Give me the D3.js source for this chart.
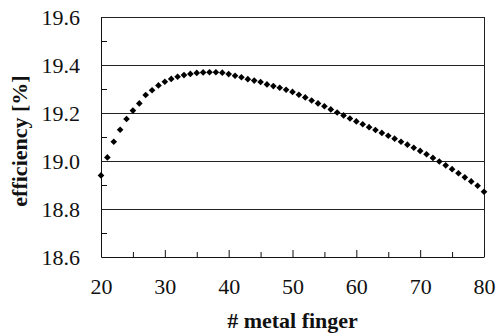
<!DOCTYPE html>
<html>
<head>
<meta charset="utf-8">
<script src="https://cdn.jsdelivr.net/npm/d3@7"></script>
<style>
  body { margin: 0; background: #fff; }
</style>
</head>
<body>
<svg width="496" height="336"></svg>
<script>
var width = 496,
    height = 336,
    margin = {top: 17, right: 12, bottom: 79, left: 101}
var FONT = "'Liberation Serif'"

// number of metal fingers
var fingers = d3.range(20, 81)
// efficiency [%]
var efficiency = [
    18.94, 19.015, 19.08, 19.13, 19.175, 19.21, 19.24, 19.275, 19.295, 19.315,
    19.33, 19.342, 19.351, 19.358, 19.363, 19.367, 19.369, 19.37, 19.37, 19.368,
    19.362, 19.355, 19.349, 19.341, 19.335, 19.329, 19.319, 19.312, 19.305, 19.297,
    19.288, 19.276, 19.265, 19.252, 19.24, 19.228, 19.215, 19.202, 19.19, 19.177,
    19.165, 19.153, 19.141, 19.129, 19.117, 19.105, 19.093, 19.08, 19.068, 19.055,
    19.042, 19.028, 19.013, 18.998, 18.982, 18.966, 18.949, 18.932, 18.915, 18.897,
    18.872
]
var xTicks = [20, 30, 40, 50, 60, 70, 80]
var xMinor = [25, 35, 45, 55, 65, 75]
var yTicks = [18.6, 18.8, 19.0, 19.2, 19.4, 19.6]
var yMinor = [18.7, 18.9, 19.1, 19.3, 19.5]

var w = width - margin.left - margin.right,
    h = height - margin.top - margin.bottom

var x = d3.scaleLinear().domain([20, 80]).range([0, w])
var y = d3.scaleLinear().domain([18.6, 19.6]).range([h, 0])

var svg = d3.select("svg")
var g = svg.append("g")
    .attr("transform", "translate(" + margin.left + "," + margin.top + ")")

// gridlines
g.selectAll(".grid").data(yTicks.slice(1)).enter().append("line")
    .attr("x1", 0).attr("x2", w)
    .attr("y1", d => Math.round(y(d)) + 0.5).attr("y2", d => Math.round(y(d)) + 0.5)
    .attr("stroke", "#222").attr("stroke-width", 1)

// right border
g.append("line")
    .attr("x1", w + 0.5).attr("x2", w + 0.5).attr("y1", 0).attr("y2", h)
    .attr("stroke", "#222")

// x axis (ticks point inward)
var xAxis = g.append("g").attr("transform", "translate(0," + h + ")")
    .call(d3.axisBottom(x).tickValues(xTicks).tickFormat(d3.format("d")).tickSizeInner(-7).tickSizeOuter(0))
xAxis.select(".domain").attr("stroke", "#111")
xAxis.selectAll(".tick line").attr("stroke", "#111")
xAxis.selectAll("text").attr("y", 21).attr("font-size", 22).attr("fill", "#111")
    .style("font-family", FONT)
xAxis.selectAll(".minor").data(xMinor).enter().append("line")
    .attr("class", "minor")
    .attr("x1", d => x(d) + 0.5).attr("x2", d => x(d) + 0.5)
    .attr("y1", 0).attr("y2", -5).attr("stroke", "#111")

// y axis
var yAxis = g.append("g")
    .call(d3.axisLeft(y).tickValues(yTicks).tickFormat(d3.format(".1f")).tickSize(0))
yAxis.select(".domain").attr("stroke", "#111")
yAxis.selectAll("text").attr("x", -21).attr("font-size", 22).attr("fill", "#111")
    .style("font-family", FONT)
yAxis.selectAll(".minor").data(yMinor).enter().append("line")
    .attr("class", "minor")
    .attr("x1", 0).attr("x2", 6)
    .attr("y1", d => Math.round(y(d)) + 0.5).attr("y2", d => Math.round(y(d)) + 0.5)
    .attr("stroke", "#111")

// data points (diamonds)
g.selectAll(".pt").data(fingers).enter().append("path")
    .attr("class", "pt")
    .attr("d", d3.symbol(d3.symbolSquare, 22))
    .attr("transform", (d, i) => "translate(" + x(d) + "," + y(efficiency[i]) + ") rotate(45)")
    .attr("fill", "#000")

// axis titles
svg.append("text")
    .attr("x", margin.left + w / 2).attr("y", 328)
    .style("font-family", FONT)
    .attr("text-anchor", "middle").attr("font-weight", "bold").attr("font-size", 22)
    .attr("fill", "#111")
    .text("# metal finger")

svg.append("text")
    .attr("transform", "translate(27," + (margin.top + h / 2 + 4) + ") rotate(-90)")
    .style("font-family", FONT)
    .attr("text-anchor", "middle").attr("font-weight", "bold").attr("font-size", 22)
    .attr("fill", "#111")
    .text("efficiency [%]")
</script>
</body>
</html>
